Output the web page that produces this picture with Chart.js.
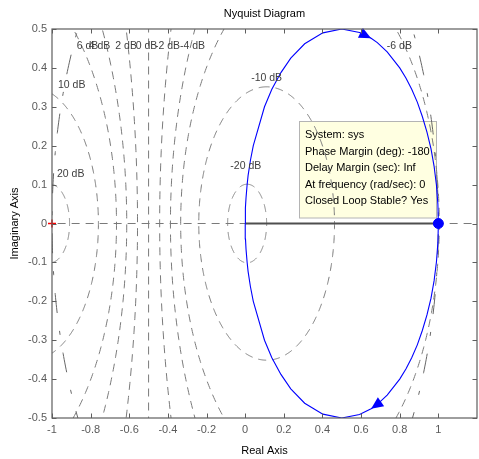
<!DOCTYPE html>
<html>
<head>
<meta charset="utf-8">
<script src="https://cdn.jsdelivr.net/npm/chart.js@4"></script>
<style>
  html, body { margin: 0; padding: 0; overflow: hidden; background: #fff; }
  canvas { display: block; }
</style>
</head>
<body>
<canvas id="nyq" width="483" height="459"></canvas>
<script>
// Nyquist locus of sys for w >= 0 (real and imaginary parts); the w <= 0 branch is its mirror image
const locusRe = [1, 0.9975, 0.99, 0.978, 0.962, 0.941, 0.917, 0.891, 0.862, 0.832, 0.8, 0.735, 0.684, 0.652, 0.592, 0.5, 0.402, 0.308, 0.236, 0.185, 0.138, 0.1, 0.042, 0.027, 0.015, 0.0099, 0.0044, 0.0016, 0.0006, 0];
const locusIm = [0, -0.0499, -0.099, -0.147, -0.192, -0.235, -0.275, -0.312, -0.345, -0.374, -0.4, -0.441, -0.465, -0.476, -0.491, -0.5, -0.49, -0.462, -0.425, -0.388, -0.345, -0.3, -0.2, -0.162, -0.123, -0.099, -0.066, -0.04, -0.025, 0];
// locus sample that carries the direction arrows (arrow tip)
const arrowIndex = 13;

// closed-loop constant-magnitude grid, in dB
const mCirclesDb = [-20, -10, -6, -4, -2, 0, 2, 4, 6, 10, 20];

// axis ticks
const xTickValues = [-1, -0.8, -0.6, -0.4, -0.2, 0, 0.2, 0.4, 0.6, 0.8, 1];
const yTickValues = [-0.5, -0.4, -0.3, -0.2, -0.1, 0, 0.1, 0.2, 0.3, 0.4, 0.5];

// stability margin readout
const marginLines = [
  'System: sys',
  'Phase Margin (deg): -180',
  'Delay Margin (sec): Inf',
  'At frequency (rad/sec): 0',
  'Closed Loop Stable? Yes'
];
const marginPoint = { x: 1, y: 0 };
const criticalPoint = { x: -1, y: 0 };

// ---- layout ----
const X_RANGE = [-1, 1.2];
const Y_RANGE = [-0.5, 0.5];
const GRID_GREY = '#7a7a7a';
const AXIS_GREY = '#5e5e5e';
const FONT = '"Liberation Sans", Arial, sans-serif';
// anchor (left edge, vertical middle) of each grid label, in axis units
const mLabelPos = {
  '20': [-0.974, 0.128], '10': [-0.969, 0.357], '6': [-0.872, 0.457],
  '4': [-0.81, 0.457], '2': [-0.672, 0.457], '0': [-0.567, 0.457],
  '-2': [-0.467, 0.457], '-4': [-0.338, 0.457], '-6': [0.733, 0.457],
  '-10': [0.031, 0.375], '-20': [-0.077, 0.148]
};
// data-tip box, in pixels
const TIP = { x: 299.5, y: 121.5, w: 137, h: 96.5, textX: 305, firstLine: 135, lineStep: 16.6 };

// points of one constant-magnitude contour |G/(1+G)| = M
function mCircle(db) {
  const M = Math.pow(10, db / 20);
  if (db === 0) return [{ x: -0.5, y: -3 }, { x: -0.5, y: 3 }];
  const c = (M * M) / (1 - M * M);
  const r = Math.abs(M / (1 - M * M));
  const pts = [];
  for (let k = 0; k <= 720; k++) {
    const a = Math.PI / 2 + (k / 720) * 2 * Math.PI;
    pts.push({ x: c + r * Math.cos(a), y: r * Math.sin(a) });
  }
  return pts;
}
function unitCircle() {
  const pts = [];
  for (let k = 0; k <= 720; k++) {
    const a = Math.PI / 2 + (k / 720) * 2 * Math.PI;
    pts.push({ x: Math.cos(a), y: Math.sin(a) });
  }
  return pts;
}

const posBranch = locusRe.map((re, i) => ({ x: re, y: locusIm[i] }));
const negBranch = locusRe.map((re, i) => ({ x: re, y: -locusIm[i] })).reverse();

const lineDs = (data, color, width, dash) => ({
  data, showLine: true, borderColor: color, borderWidth: width,
  borderDash: dash || [], pointRadius: 0, fill: false, tension: 0
});

const datasets = [
  { data: [marginPoint], pointRadius: 5, pointBackgroundColor: '#0000ff', pointBorderColor: '#0000ff', showLine: false },
  { data: [criticalPoint], pointStyle: 'cross', pointRadius: 4, pointBorderColor: '#ff0000', pointBorderWidth: 1.5, showLine: false, clip: false },
  lineDs(posBranch, '#0000ff', 1.1),
  lineDs(negBranch, '#0000ff', 1.1),
  lineDs([{ x: 0, y: 0 }, marginPoint], '#4e4e4e', 1.8),
  ...mCirclesDb.map(db => lineDs(mCircle(db), GRID_GREY, 1, [8, 6])),
  lineDs(unitCircle(), '#666666', 1, [20, 18, 4, 18]),
  lineDs([{ x: -3, y: 0 }, { x: 3, y: 0 }], GRID_GREY, 1, [8, 6])
];

const decorations = {
  id: 'decorations',
  beforeDatasetsDraw(chart) {
    const ctx = chart.ctx;
    ctx.save();
    ctx.fillStyle = '#ffffe1';
    ctx.fillRect(TIP.x, TIP.y, TIP.w, TIP.h);
    ctx.strokeStyle = '#b4b4b4';
    ctx.lineWidth = 1;
    ctx.strokeRect(TIP.x, TIP.y, TIP.w, TIP.h);
    ctx.fillStyle = '#000';
    ctx.font = '11px ' + FONT;
    ctx.textAlign = 'left';
    ctx.textBaseline = 'middle';
    marginLines.forEach((t, i) => ctx.fillText(t, TIP.textX, TIP.firstLine + i * TIP.lineStep));
    ctx.restore();
  },
  afterDatasetsDraw(chart) {
    const ctx = chart.ctx;
    const xs = chart.scales.x, ys = chart.scales.y;
    const a = chart.chartArea;
    ctx.save();

    // grid labels
    ctx.fillStyle = '#404040';
    ctx.font = '10.5px ' + FONT;
    ctx.textAlign = 'left';
    ctx.textBaseline = 'middle';
    mCirclesDb.forEach(db => {
      const p = mLabelPos[String(db)];
      ctx.fillText(db + ' dB', xs.getPixelForValue(p[0]), ys.getPixelForValue(p[1]));
    });

    // direction arrows, tip on the locus
    const arrow = (branch, i) => {
      const tip = branch[i], prev = branch[i - 1];
      const tx = xs.getPixelForValue(tip.x), ty = ys.getPixelForValue(tip.y);
      const px = xs.getPixelForValue(prev.x), py = ys.getPixelForValue(prev.y);
      const ang = Math.atan2(ty - py, tx - px);
      const L = 12, W = 5.5;
      ctx.save();
      ctx.translate(tx, ty);
      ctx.rotate(ang);
      ctx.beginPath();
      ctx.moveTo(0, 0);
      ctx.lineTo(-L, -W);
      ctx.lineTo(-L, W);
      ctx.closePath();
      ctx.fillStyle = '#0000ff';
      ctx.fill();
      ctx.restore();
    };
    arrow(posBranch, arrowIndex);
    arrow(negBranch, negBranch.length - 1 - arrowIndex);

    // axes box with inward ticks
    ctx.strokeStyle = AXIS_GREY;
    ctx.lineWidth = 1.2;
    ctx.strokeRect(a.left, a.top, a.right - a.left, a.bottom - a.top);
    ctx.lineWidth = 1;
    const T = 4.5;
    ctx.beginPath();
    xTickValues.forEach(v => {
      const x = Math.round(xs.getPixelForValue(v)) + 0.5;
      ctx.moveTo(x, a.bottom); ctx.lineTo(x, a.bottom - T);
      ctx.moveTo(x, a.top); ctx.lineTo(x, a.top + T);
    });
    yTickValues.forEach(v => {
      const y = Math.round(ys.getPixelForValue(v)) + 0.5;
      ctx.moveTo(a.left, y); ctx.lineTo(a.left + T, y);
      ctx.moveTo(a.right, y); ctx.lineTo(a.right - T, y);
    });
    ctx.stroke();
    ctx.restore();
  },
  afterDraw(chart) {
    const ctx = chart.ctx;
    const a = chart.chartArea;
    const cx = (a.left + a.right) / 2;
    ctx.save();
    ctx.fillStyle = '#000';
    ctx.font = '11px ' + FONT;
    ctx.textAlign = 'center';
    ctx.textBaseline = 'middle';
    ctx.fillText('Nyquist Diagram', cx, 14);
    ctx.fillText('Real Axis', cx, 451);
    ctx.translate(15, (a.top + a.bottom) / 2);
    ctx.rotate(-Math.PI / 2);
    ctx.fillText('Imaginary Axis', 0, 0);
    ctx.restore();
  }
};

const fmt = v => String(Math.round(v * 10) / 10);

new Chart(document.getElementById('nyq'), {
  type: 'scatter',
  data: { datasets },
  options: {
    responsive: false,
    animation: false,
    events: [],
    layout: { padding: { top: 29, right: 2, left: 0, bottom: 0 } },
    plugins: { legend: { display: false }, tooltip: { enabled: false }, title: { display: false } },
    scales: {
      x: {
        type: 'linear', min: X_RANGE[0], max: X_RANGE[1],
        afterBuildTicks: s => { s.ticks = xTickValues.map(v => ({ value: v })); },
        afterFit: s => { s.height = 41; },
        grid: { display: false, drawTicks: false },
        border: { display: false },
        ticks: { color: '#5a5a5a', font: { size: 11, family: FONT }, padding: 5, autoSkip: false, maxRotation: 0, callback: fmt }
      },
      y: {
        type: 'linear', min: Y_RANGE[0], max: Y_RANGE[1],
        afterBuildTicks: s => { s.ticks = yTickValues.map(v => ({ value: v })); },
        afterFit: s => { s.width = 52; },
        grid: { display: false, drawTicks: false },
        border: { display: false },
        ticks: { color: '#5a5a5a', font: { size: 11, family: FONT }, padding: 5, autoSkip: false, callback: fmt }
      }
    }
  },
  plugins: [decorations]
});
</script>
</body>
</html>
